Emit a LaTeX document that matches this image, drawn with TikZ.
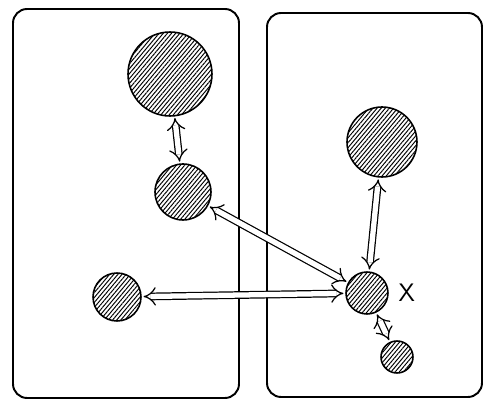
\documentclass[tikz,border=0pt]{standalone}
\usepackage{tikz}
\usetikzlibrary{arrows.meta,patterns.meta}

\begin{document}
\begin{tikzpicture}[
  x=0.02cm, y=-0.02cm,
  panel/.style={draw, line width=1.1pt, rounded corners=8pt},
  blob/.style={circle, draw, line width=0.9pt, inner sep=0pt,
               pattern={Lines[angle=50,distance=1.8pt,line width=0.55pt]}},
  link/.style={{Implies[scale=1.5]}-{Implies[scale=1.5]}, double, double distance=3pt,
               line width=0.7pt, shorten <=1pt, shorten >=1pt}
]
  \useasboundingbox (0,0) rectangle (485,405);

  % the two panels
  \draw[panel] (13,9) rectangle (239,398);
  \draw[panel] (267,13) rectangle (482,397);

  % left panel
  \node[blob, minimum size=1.68cm] (big)  at (170,74)  {};
  \node[blob, minimum size=1.12cm] (mid)  at (183,192) {};
  \node[blob, minimum size=0.96cm] (low)  at (117,297) {};

  % right panel
  \node[blob, minimum size=1.40cm] (top)  at (382,142) {};
  \node[blob, minimum size=0.84cm] (hub)  at (367,293) {};
  \node[blob, minimum size=0.64cm] (tiny) at (397,357) {};
  \node[font=\sffamily\Large, right=2pt] (xlab) at (hub.east) {X};

  \draw[link] (big) -- (mid);
  \draw[link] (mid) -- (hub);
  \draw[link] (low) -- (hub);
  \draw[link] (top) -- (hub);
  \draw[link] (hub) -- (tiny);
\end{tikzpicture}
\end{document}
